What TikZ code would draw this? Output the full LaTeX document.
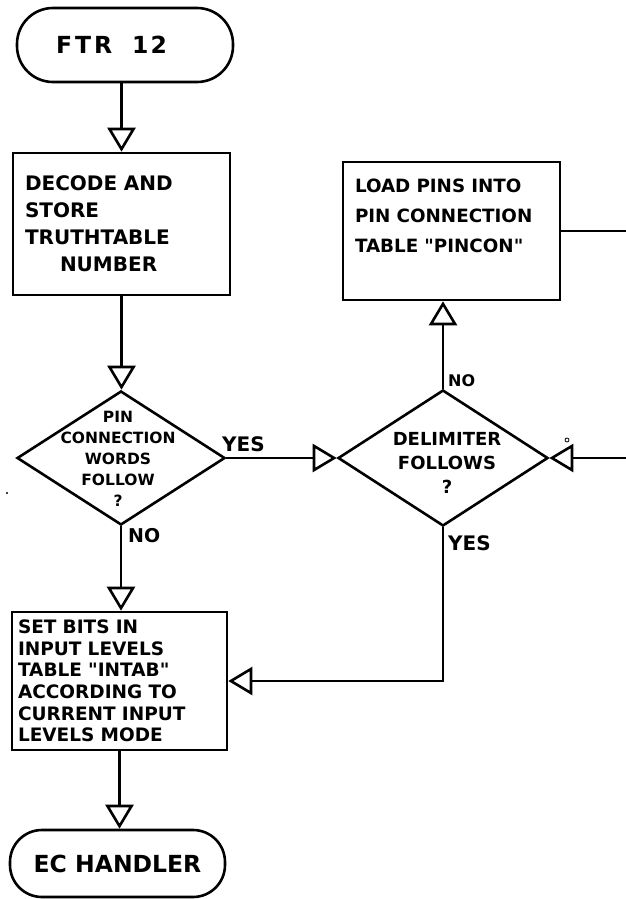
\documentclass[tikz,border=0pt]{standalone}
\usepackage{fontspec}
\usetikzlibrary{arrows.meta,shapes.geometric}
\newfontfamily\hand{DejaVu Sans Bold}

\begin{document}
\begin{tikzpicture}[x=1pt,y=-1pt,
  ink/.style={line width=2.6pt, black},
  terminal/.style={ink, draw, inner sep=0pt, font=\hand\fontsize{23.5}{28}\selectfont},
  process/.style={ink, draw, align=left, inner ysep=0pt, font=\hand\fontsize{20}{27}\selectfont},
  decision/.style={ink, draw, diamond, inner sep=0pt, minimum width=208pt, minimum height=134pt},
  qtext/.style={align=center, inner sep=0pt},
  tag/.style={inner sep=0pt, anchor=base west, font=\hand\fontsize{20}{22}\selectfont},
  flow/.style={ink, -{Triangle[width=28pt,length=24pt,fill=white]}},
  wire/.style={ink}
]
\useasboundingbox (0,0) rectangle (626,899);

% terminals
\node[terminal, rounded corners=36pt, minimum width=216pt, minimum height=74pt] (start) at (125,45)
  {F\hspace{3pt}T\hspace{3pt}R\hspace{20pt}1\hspace{2pt}2\hspace*{27pt}};
\node[terminal, rounded corners=32pt, minimum width=215pt, minimum height=67pt] (ecend) at (117.5,863.5) {EC HANDLER};

% process boxes
\node[process, text width=193pt, inner xsep=12pt, minimum height=142pt] (decode) at (121.5,224)
  {DECODE AND\\STORE\\TRUTHTABLE\\\hspace*{35pt}NUMBER};
\node[process, text width=193pt, inner xsep=12pt, minimum height=138pt,
      font=\hand\fontsize{18.3}{30}\selectfont] (load) at (451.5,231)
  {LOAD PINS INTO\\PIN CONNECTION\\TABLE "PINCON"\\\mbox{}};
\node[process, text width=203pt, inner xsep=6pt, minimum height=138pt,
      font=\hand\fontsize{18.5}{21.6}\selectfont] (setbits) at (119.5,681)
  {SET BITS IN\\INPUT LEVELS\\TABLE "INTAB"\\ACCORDING TO\\CURRENT INPUT\\LEVELS MODE};

% decisions
\node[decision] (pinq) at (121,458) {};
\node[qtext, font=\hand\fontsize{15.5}{21}\selectfont] (pinqtext) at (118,459)
  {PIN\\CONNECTION\\WORDS\\FOLLOW\\?};
\node[decision, minimum width=210pt, minimum height=136pt] (delq) at (443,458) {};
\node[qtext, font=\hand\fontsize{18}{24}\selectfont] (delqtext) at (447,463)
  {DELIMITER\\FOLLOWS\\?};

% branch labels
\node[tag] (yes1) at (222,451) {YES};
\node[tag, font=\hand\fontsize{19}{22}\selectfont] (no1) at (128,542) {NO};
\node[tag, font=\hand\fontsize{16}{18}\selectfont] (no2) at (448,386) {NO};
\node[tag] (yes2) at (448,550) {YES};

% loop ends leaving the sheet on the right
\coordinate (offA) at (626,233);
\coordinate (offB) at (626,466);

% connectors
\draw[flow] (decode.north |- start.south) -- (decode.north);
\draw[flow] (decode.south) -- (decode.south |- pinq.north);
\draw[flow] (pinq.east) -- (delq.west);
\draw[flow] (delq.north) -- (delq.north |- load.south);
\draw[flow] (pinq.south) -- (pinq.south |- setbits.north);
\draw[flow] (delq.south) |- (setbits.east);
\draw[flow] (setbits.south) -- (setbits.south |- ecend.north);
\draw[wire] (load.east) -- (load.east -| offA);
\draw[flow] (delq.east -| offB) -- (delq.east);

% small pen marks
\draw[line width=0.8pt] (567,440) circle (2pt);
\fill (7,493) circle (1.2pt);
\end{tikzpicture}
\end{document}
